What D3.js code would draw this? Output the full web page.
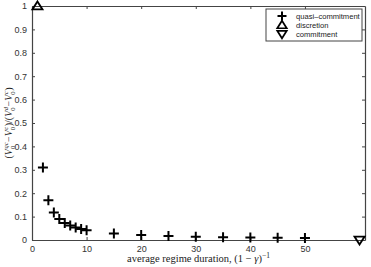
<!DOCTYPE html>
<html>
<head>
<meta charset="utf-8">
<script src="https://cdn.jsdelivr.net/npm/d3@7"></script>
<style>
  body { margin: 0; background: #fff; }
  svg { display: block; }
  .tick text { font-family: "Liberation Sans", Arial, sans-serif; font-size: 9px; fill: #333; }
</style>
</head>
<body>
<div class="chart"></div>
<script>
// quasi-commitment: average regime duration vs relative value
const durations = [2, 3, 4, 5, 6, 7, 8, 9, 10, 15, 20, 25, 30, 35, 40, 45, 50];
const quasiValues = [0.31, 0.17, 0.118, 0.09, 0.073, 0.062, 0.053, 0.047, 0.042, 0.028, 0.021, 0.017, 0.014, 0.012, 0.011, 0.010, 0.009];
const discretion = [[1, 1]];
const commitment = [[60, 0]];
const xTicks = [0, 10, 20, 30, 40, 50];
const yTicks = [0, 0.1, 0.2, 0.3, 0.4, 0.5, 0.6, 0.7, 0.8, 0.9, 1];
const legendLabels = ["quasi–commitment", "discretion", "commitment"];

const W = 371, H = 267;
const margin = { top: 6, right: 6, bottom: 27, left: 32 };
const width = W - margin.left - margin.right,
  height = H - margin.top - margin.bottom;

const svg = d3.select(".chart").append("svg")
  .attr("width", W).attr("height", H);

const g = svg.append("g")
  .attr("transform", `translate(${margin.left},${margin.top})`);

const x = d3.scaleLinear().domain([0, 61]).range([0, width]);
const y = d3.scaleLinear().domain([0, 1]).range([height, 0]);

const axisColor = "#444";
const fmt = d => d === 0 || d === 1 ? String(d) : d3.format(".1f")(d);

// axes with inward ticks, box style
const axBottom = g.append("g").attr("transform", `translate(0,${height})`)
  .call(d3.axisBottom(x).tickValues(xTicks).tickSizeInner(-3).tickSizeOuter(0).tickPadding(6));
const axLeft = g.append("g")
  .call(d3.axisLeft(y).tickValues(yTicks).tickFormat(fmt).tickSizeInner(-3).tickSizeOuter(0).tickPadding(5));
const axTop = g.append("g")
  .call(d3.axisTop(x).tickValues(xTicks).tickSizeInner(-3).tickSizeOuter(0).tickFormat(""));
const axRight = g.append("g").attr("transform", `translate(${width},0)`)
  .call(d3.axisRight(y).tickValues(yTicks).tickSizeInner(-3).tickSizeOuter(0).tickFormat(""));

[axBottom, axLeft, axTop, axRight].forEach(a => {
  a.selectAll("path.domain").attr("stroke", axisColor).attr("stroke-width", 1.2);
  a.selectAll(".tick line").attr("stroke", axisColor);
});

// markers
function plusPath(s) {
  return `M${-s},0H${s}M0,${-s}V${s}`;
}
function triUp(s) {
  return `M0,${-s}L${s * 1.1},${s * 0.75}L${-s * 1.1},${s * 0.75}Z`;
}
function triDown(s) {
  return `M0,${s}L${s * 1.1},${-s * 0.75}L${-s * 1.1},${-s * 0.75}Z`;
}

g.selectAll("path.qc")
  .data(durations.map((d, i) => [d, quasiValues[i]]))
  .join("path")
  .attr("class", "qc")
  .attr("transform", d => `translate(${x(d[0])},${y(d[1])})`)
  .attr("d", plusPath(5))
  .attr("stroke", "#000").attr("stroke-width", 2).attr("fill", "none");

g.selectAll("path.disc")
  .data(discretion)
  .join("path")
  .attr("class", "disc")
  .attr("transform", d => `translate(${x(d[0])},${y(d[1])})`)
  .attr("d", triUp(4.6))
  .attr("stroke", "#000").attr("stroke-width", 1.8).attr("fill", "none");

g.selectAll("path.comm")
  .data(commitment)
  .join("path")
  .attr("class", "comm")
  .attr("transform", d => `translate(${x(d[0])},${y(d[1])})`)
  .attr("d", triDown(4.6))
  .attr("stroke", "#000").attr("stroke-width", 1.8).attr("fill", "none");

// legend
const lg = svg.append("g").attr("transform", "translate(266,9)");
lg.append("rect").attr("width", 96).attr("height", 32)
  .attr("fill", "#fff").attr("stroke", axisColor).attr("stroke-width", 1);
const markers = [plusPath(4.5), triUp(4.3), triDown(4.3)];
legendLabels.forEach((t, i) => {
  const yy = 7 + i * 9;
  lg.append("path").attr("transform", `translate(16,${yy})`).attr("d", markers[i])
    .attr("stroke", "#000").attr("stroke-width", i === 0 ? 2 : 1.7).attr("fill", "none");
  lg.append("text").attr("x", 30).attr("y", yy + 3)
    .attr("font-family", "Liberation Sans, Arial, sans-serif").attr("font-size", 7.6)
    .attr("fill", "#222").text(t);
});

// axis titles
const xl = svg.append("text")
  .attr("x", margin.left + width / 2).attr("y", 262)
  .attr("text-anchor", "middle")
  .attr("font-family", "Liberation Serif, serif").attr("font-size", 10.5).attr("fill", "#222");
xl.append("tspan").text("average regime duration, (1 − ");
xl.append("tspan").attr("font-style", "italic").text("γ");
xl.append("tspan").text(")");
xl.append("tspan").attr("dy", -4).attr("font-size", 7.5).text("−1");

// y title: pieces laid out along a rotated group
const yg = svg.append("g");
let cursor = 0;
function piece(txt, opts = {}) {
  const t = yg.append("text")
    .attr("x", cursor + (opts.dx || 0)).attr("y", opts.dy || 0)
    .attr("font-family", "Liberation Serif, serif")
    .attr("font-size", opts.size || 10)
    .attr("font-style", opts.italic ? "italic" : null)
    .attr("fill", "#222").text(txt);
  const w = t.node().getComputedTextLength();
  return w;
}
function vterm(sup) {
  cursor += piece("V", { italic: true });
  const a = piece("0", { size: 6.5, dy: 2.5 });
  const b = piece(sup, { size: 6.5, dy: -4.5, italic: true, dx: 0.5 });
  cursor += Math.max(a, b + 0.5) + 0.5;
}
cursor += piece("(");
vterm("qc");
cursor += piece(" − ");
vterm("c");
cursor += piece(")/(");
vterm("d");
cursor += piece(" − ");
vterm("c");
cursor += piece(")");
yg.attr("transform", `translate(12,${margin.top + height / 2 + cursor / 2}) rotate(-90)`);
</script>
</body>
</html>
